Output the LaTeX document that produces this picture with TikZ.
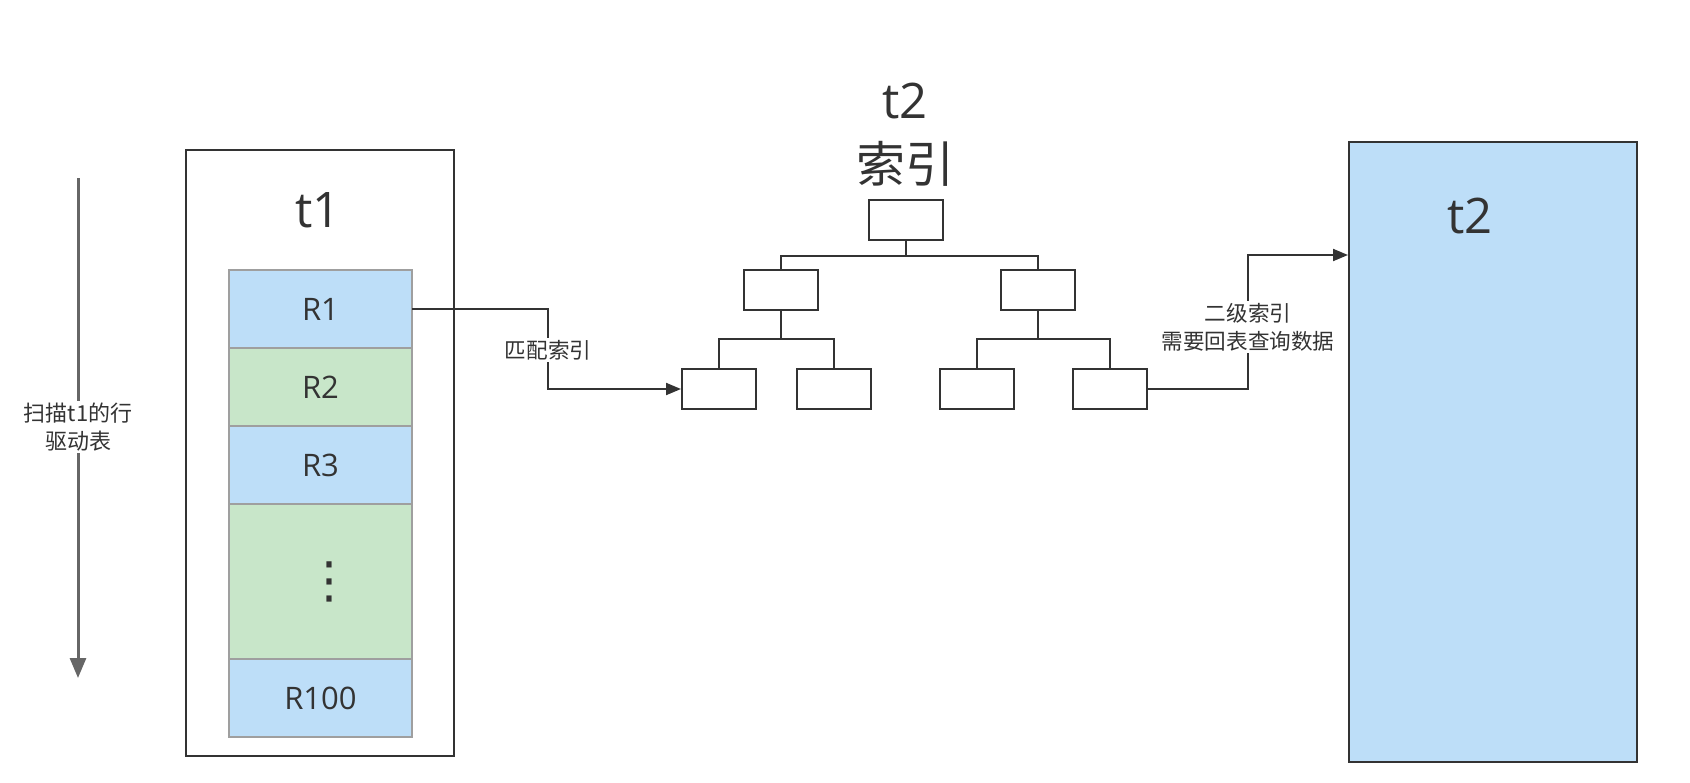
\documentclass[tikz,border=0pt]{standalone}
\usepackage{fontspec}
\setmainfont{Open Sans}
\newfontfamily\cjk{Noto Sans CJK SC}
\newfontfamily\symfont{DejaVu Sans}
\usetikzlibrary{arrows.meta,positioning}
\definecolor{rowblue}{HTML}{BDDEF8}
\definecolor{rowgreen}{HTML}{C8E6C9}
\definecolor{darkline}{HTML}{333333}
\definecolor{scangray}{HTML}{666666}

\begin{document}
\begin{tikzpicture}[x=0.5pt,y=-0.5pt,
        table_box/.style ={rectangle, draw=darkline, line width=1pt,
            minimum width=134pt, minimum height=303pt},
        row_blue/.style ={rectangle, draw=gray!75, fill=rowblue, line width=0.6pt,
            outer sep=0pt, minimum width=91.5pt, minimum height=39pt,
            text=darkline, font=\fontsize{15.5}{18}\selectfont},
        row_green/.style ={row_blue, fill=rowgreen},
        tree_node/.style ={rectangle, draw=darkline, line width=1pt,
            minimum width=37pt, minimum height=20pt},
        title/.style ={text=darkline, align=center, font=\fontsize{24.5}{32}\selectfont},
        note/.style ={fill=white, inner sep=1pt, text=darkline, align=center,
            font=\cjk\fontsize{10.8}{14}\selectfont},
        line/.style ={draw=darkline, line width=1pt, -{Triangle[length=7.5pt,width=6pt]}}]
    \tikzstyle{link} = [draw=darkline, line width=1pt]
    \useasboundingbox (0,0) rectangle (1690,782);

    % driving table t1
    \node [table_box] (t1box) at (320,453) {};
    \node [title] (t1label) at (318,210) {t1};
    \node [row_blue] (r1) at (320.5,309) {R1};
    \node [row_green, below=0pt of r1] (r2) {R2};
    \node [row_blue, below=0pt of r2] (r3) {R3};
    \node [row_green, below=0pt of r3, minimum height=77.5pt,
           font=\symfont\fontsize{25}{28}\selectfont] (rdots) {\hspace{9pt}⋮};
    \node [row_blue, below=0pt of rdots] (r100) {R100};

    % scan direction
    \coordinate (scan_top) at (78,178);
    \coordinate (scan_end) at (78,678);
    \draw [draw=scangray, line width=1.5pt, -{Triangle[length=10pt,width=8pt]}] (scan_top) -- (scan_end);
    \node [note, font=\cjk\fontsize{11}{14}\selectfont] (scan_label) at (78,427) {扫描t1的行\\驱动表};

    % index tree of t2
    \node [title] (idx_label) at (905,135) {t2\\{\cjk 索引}};
    \node [tree_node] (root) at (906,220) {};
    \node [tree_node] (mid_l) at (781,290) {};
    \node [tree_node] (mid_r) at (1038,290) {};
    \node [tree_node] (leaf1) at (719,389) {};
    \node [tree_node] (leaf2) at (834,389) {};
    \node [tree_node] (leaf3) at (977,389) {};
    \node [tree_node] (leaf4) at (1110,389) {};
    \begin{scope}[every path/.style=link]
        \path (root.south) -- ++(0,15) -| (mid_l.north);
        \path (root.south) -- ++(0,15) -| (mid_r.north);
        \path (mid_l.south) -- ++(0,28) -| (leaf1.north);
        \path (mid_l.south) -- ++(0,28) -| (leaf2.north);
        \path (mid_r.south) -- ++(0,28) -| (leaf3.north);
        \path (mid_r.south) -- ++(0,28) -| (leaf4.north);
    \end{scope}

    % table t2
    \node [table_box, fill=rowblue, minimum width=144pt, minimum height=310pt] (t2box) at (1493,452) {};
    \node [title] (t2label) at (1470,216) {t2};

    % lookups
    \coordinate (match_bend) at (548,350);
    \coordinate (back_bend) at (1248,327);
    \coordinate (t2_entry) at ([yshift=-57pt]t2box.north west);
    \path [line] (r1.east) -| (match_bend) |- (leaf1.west);
    \path [line] (leaf4.east) -| (back_bend) |- (t2_entry);
    \node [note] (match_label) at (match_bend) {匹配索引};
    \node [note] (back_label) at (back_bend) {二级索引\\需要回表查询数据};
\end{tikzpicture}
\end{document}
